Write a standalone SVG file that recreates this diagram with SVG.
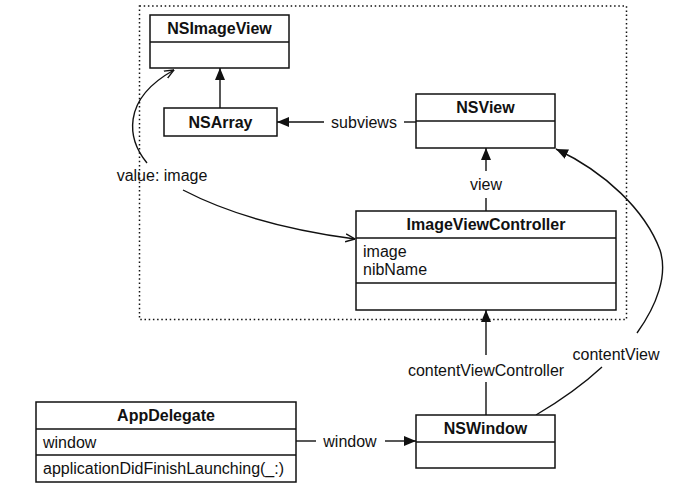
<svg xmlns="http://www.w3.org/2000/svg" width="690" height="494" viewBox="0 0 690 494">
<style>
.box{fill:#fff;stroke:#111;stroke-width:1.5}
.div{stroke:#111;stroke-width:1.5}
.t{font-family:"Liberation Sans",Arial,Helvetica,sans-serif;font-size:16px;fill:#111}
.b{font-weight:bold;text-anchor:middle}
.m{text-anchor:middle}
.c{fill:none;stroke:#111;stroke-width:1.4}
</style>
<defs>
<marker id="fa" viewBox="0 0 12 10" refX="12" refY="5" markerWidth="12" markerHeight="10" markerUnits="userSpaceOnUse" orient="auto"><path d="M0,0 L12,5 L0,10 z" fill="#111"/></marker>
<marker id="oa" viewBox="0 0 10 10" refX="9.5" refY="5" markerWidth="10" markerHeight="10" markerUnits="userSpaceOnUse" orient="auto"><path d="M0,1 L9.5,5 L0,9" fill="none" stroke="#111" stroke-width="1.4"/></marker>
</defs>
<rect x="139.5" y="6" width="487" height="313.5" fill="none" stroke="#111" stroke-width="1.5" stroke-dasharray="1.5 2.7"/>

<g id="connectors">
<path class="c" d="M220,108 L220,68" marker-end="url(#fa)"/>
<path class="c" d="M416,122 L404,122"/>
<path class="c" d="M324,122 L277,122" marker-end="url(#fa)"/>
<text class="t m" x="364" y="128">subviews</text>
<path class="c" d="M486,211 L486,198"/>
<path class="c" d="M486,171 L486,148" marker-end="url(#fa)"/>
<text class="t m" x="486" y="190">view</text>
<path class="c" d="M486,415 L486,382"/>
<path class="c" d="M486,355 L486,310" marker-end="url(#fa)"/>
<text class="t m" x="486" y="376">contentViewController</text>
<path class="c" d="M296,441 L316,441"/>
<path class="c" d="M385,441 L416,441" marker-end="url(#fa)"/>
<text class="t m" x="350" y="447">window</text>
<path class="c" d="M536,415 Q575,392 602,367"/>
<path class="c" d="M637,333 C657,305 668,275 660,250 C645,210 605,172 556,149" marker-end="url(#fa)"/>
<text class="t m" x="616" y="360">contentView</text>
<path class="c" d="M147,163 C128,140 120,100 174,70" marker-end="url(#oa)"/>
<path class="c" d="M183,190 Q250,225 355,239" marker-end="url(#oa)"/>
<text class="t m" x="162" y="181">value: image</text>
</g>

<g id="NSImageView">
<rect class="box" x="150" y="15" width="139" height="53"/>
<line class="div" x1="150" y1="42" x2="289" y2="42"/>
<text class="t b" x="219.5" y="34">NSImageView</text>
</g>

<g id="NSArray">
<rect class="box" x="164" y="108" width="113" height="28"/>
<text class="t b" x="220.5" y="128">NSArray</text>
</g>

<g id="NSView">
<rect class="box" x="416" y="94" width="139" height="54"/>
<line class="div" x1="416" y1="121" x2="555" y2="121"/>
<text class="t b" x="485.5" y="113">NSView</text>
</g>

<g id="ImageViewController">
<rect class="box" x="356" y="211" width="260" height="99"/>
<line class="div" x1="356" y1="238" x2="616" y2="238"/>
<line class="div" x1="356" y1="283" x2="616" y2="283"/>
<text class="t b" x="486" y="230">ImageViewController</text>
<text class="t" x="363" y="257">image</text>
<text class="t" x="363" y="275">nibName</text>
</g>

<g id="AppDelegate">
<rect class="box" x="36" y="402" width="260" height="80"/>
<line class="div" x1="36" y1="429" x2="296" y2="429"/>
<line class="div" x1="36" y1="455" x2="296" y2="455"/>
<text class="t b" x="166" y="421">AppDelegate</text>
<text class="t" x="43" y="448">window</text>
<text class="t" x="43" y="474">applicationDidFinishLaunching(_:)</text>
</g>

<g id="NSWindow">
<rect class="box" x="416" y="415" width="139" height="53"/>
<line class="div" x1="416" y1="442" x2="555" y2="442"/>
<text class="t b" x="485.5" y="434">NSWindow</text>
</g>
</svg>
